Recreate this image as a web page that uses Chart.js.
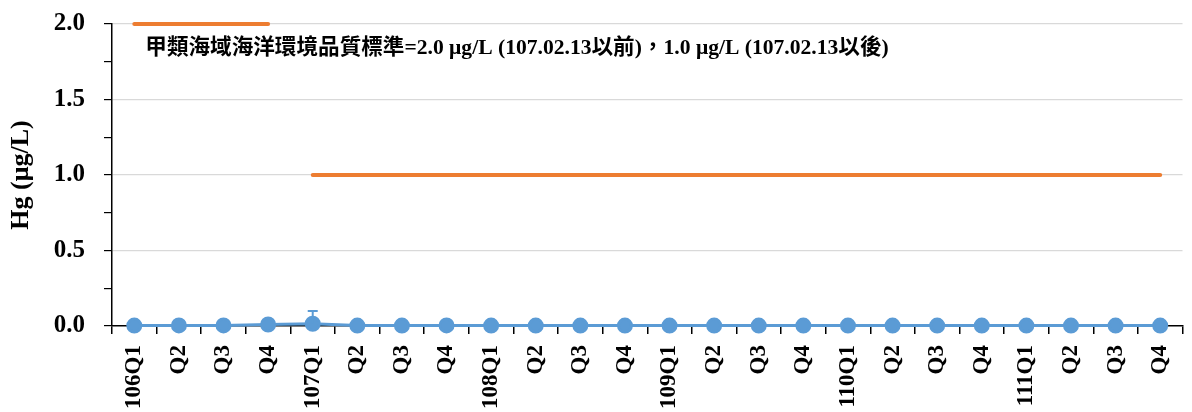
<!DOCTYPE html>
<html>
<head>
<meta charset="utf-8">
<script src="https://cdn.jsdelivr.net/npm/chart.js@4/dist/chart.umd.min.js"></script>
<style>
html,body{margin:0;padding:0;background:#fff;overflow:hidden;}
#wrap{width:1192px;height:412px;position:relative;}
canvas{display:block;}
</style>
</head>
<body>
<div id="wrap"><canvas id="c"></canvas></div>
<script>
const categories = ['106Q1','Q2','Q3','Q4','107Q1','Q2','Q3','Q4','108Q1','Q2','Q3','Q4','109Q1','Q2','Q3','Q4','110Q1','Q2','Q3','Q4','111Q1','Q2','Q3','Q4'];
const hgValues = [0.003,0.004,0.004,0.010,0.015,0.003,0.003,0.004,0.003,0.003,0.003,0.003,0.003,0.003,0.003,0.003,0.003,0.003,0.003,0.003,0.003,0.003,0.003,0.003];
const hgErrorUp = [0,0,0,0,0.085,0,0,0,0,0,0,0,0,0,0,0,0,0,0,0,0,0,0,0];
const standardBefore = [2.0,2.0,2.0,2.0,null,null,null,null,null,null,null,null,null,null,null,null,null,null,null,null,null,null,null,null];
const standardAfter = [null,null,null,null,1.0,1.0,1.0,1.0,1.0,1.0,1.0,1.0,1.0,1.0,1.0,1.0,1.0,1.0,1.0,1.0,1.0,1.0,1.0,1.0];
const yTicks = [0,0.5,1.0,1.5,2.0];
const yMinorTicks = [0,0.25,0.5,0.75,1.0,1.25,1.5,1.75,2.0];
const noteText = '甲類海域海洋環境品質標準=2.0 μg/L (107.02.13以前)，1.0 μg/L (107.02.13以後)';
const yTitle = 'Hg (μg/L)';

const serif = '"Liberation Serif","Times New Roman","Noto Sans CJK TC",serif';

const errorBarPlugin = {
  id:'errorBars',
  afterDatasetsDraw(chart){
    const ctx = chart.ctx, xs = chart.scales.x, ys = chart.scales.y;
    ctx.save();
    ctx.strokeStyle = '#5B9BD5';
    ctx.lineWidth = 2;
    hgErrorUp.forEach((e,i)=>{
      if(!e) return;
      const x = xs.getPixelForValue(i);
      const y0 = ys.getPixelForValue(hgValues[i]);
      const y1 = ys.getPixelForValue(hgValues[i]+e);
      ctx.beginPath();
      ctx.moveTo(x,y0); ctx.lineTo(x,y1);
      ctx.moveTo(x-5,y1); ctx.lineTo(x+5,y1);
      ctx.stroke();
    });
    ctx.restore();
  }
};

const notePlugin = {
  id:'note',
  afterDraw(chart){
    const ctx = chart.ctx, xs = chart.scales.x, ys = chart.scales.y;
    ctx.save();
    ctx.fillStyle = '#000';
    ctx.font = 'bold 21.6px ' + serif;
    ctx.textBaseline = 'middle';
    ctx.textAlign = 'left';
    ctx.fillText(noteText, xs.getPixelForValue(0) + 11, ys.getPixelForValue(1.84));
    ctx.restore();
  }
};

new Chart(document.getElementById('c'), {
  type:'line',
  data:{
    labels: categories,
    datasets:[
      {label:'Hg', data:hgValues, borderColor:'#5B9BD5', backgroundColor:'#5B9BD5', borderWidth:3, pointRadius:6.5, pointHoverRadius:6.5, pointBackgroundColor:'#5B9BD5', pointBorderColor:'#5B9BD5', clip:false, order:1},
      {label:'std1', data:standardBefore, borderColor:'#ED7D31', borderWidth:4, borderCapStyle:'round', pointRadius:0, spanGaps:false, clip:false, order:2},
      {label:'std2', data:standardAfter, borderColor:'#ED7D31', borderWidth:4, borderCapStyle:'round', pointRadius:0, spanGaps:false, clip:false, order:2}
    ]
  },
  options:{
    responsive:true, maintainAspectRatio:false, animation:false,
    layout:{padding:{top:24,right:6,bottom:0,left:6}},
    plugins:{legend:{display:false}, tooltip:{enabled:false}},
    scales:{
      x:{
        type:'category', offset:true,
        grid:{offset:true, drawOnChartArea:false, color:'#000', tickLength:8, lineWidth:1.5},
        border:{color:'#000', width:1.5},
        ticks:{color:'#000', font:{family:serif, size:23, weight:'bold'}, minRotation:90, maxRotation:90, autoSkip:false, padding:11},
        afterFit(axis){ axis.height = 86; axis.paddingLeft = 0; axis.paddingRight = 0; axis.paddingTop = 0; axis.paddingBottom = 0; }
      },
      y:{
        min:0, max:2.0,
        afterBuildTicks(axis){ axis.ticks = yMinorTicks.map(v=>({value:v})); },
        afterFit(axis){ axis.width = 106; axis.paddingTop = 0; axis.paddingBottom = 0; axis.paddingLeft = 0; axis.paddingRight = 0; },
        grid:{
          color:(c)=> (c.tick && Math.abs(c.tick.value*2 - Math.round(c.tick.value*2))<1e-6 && c.tick.value>0) ? '#D9D9D9' : 'rgba(0,0,0,0)',
          tickColor:'#000', tickLength:8, lineWidth:1.2
        },
        border:{color:'#000', width:1.5},
        ticks:{color:'#000', font:{family:serif, size:25, weight:'bold'}, padding:19,
          callback:(v)=> yTicks.some(t=>Math.abs(t-v)<1e-6) ? v.toFixed(1) : ''},
        title:{display:true, text:yTitle, color:'#000', font:{family:serif, size:26, weight:'bold'}, padding:{top:0,bottom:16}}
      }
    }
  },
  plugins:[errorBarPlugin, notePlugin]
});
</script>
</body>
</html>
